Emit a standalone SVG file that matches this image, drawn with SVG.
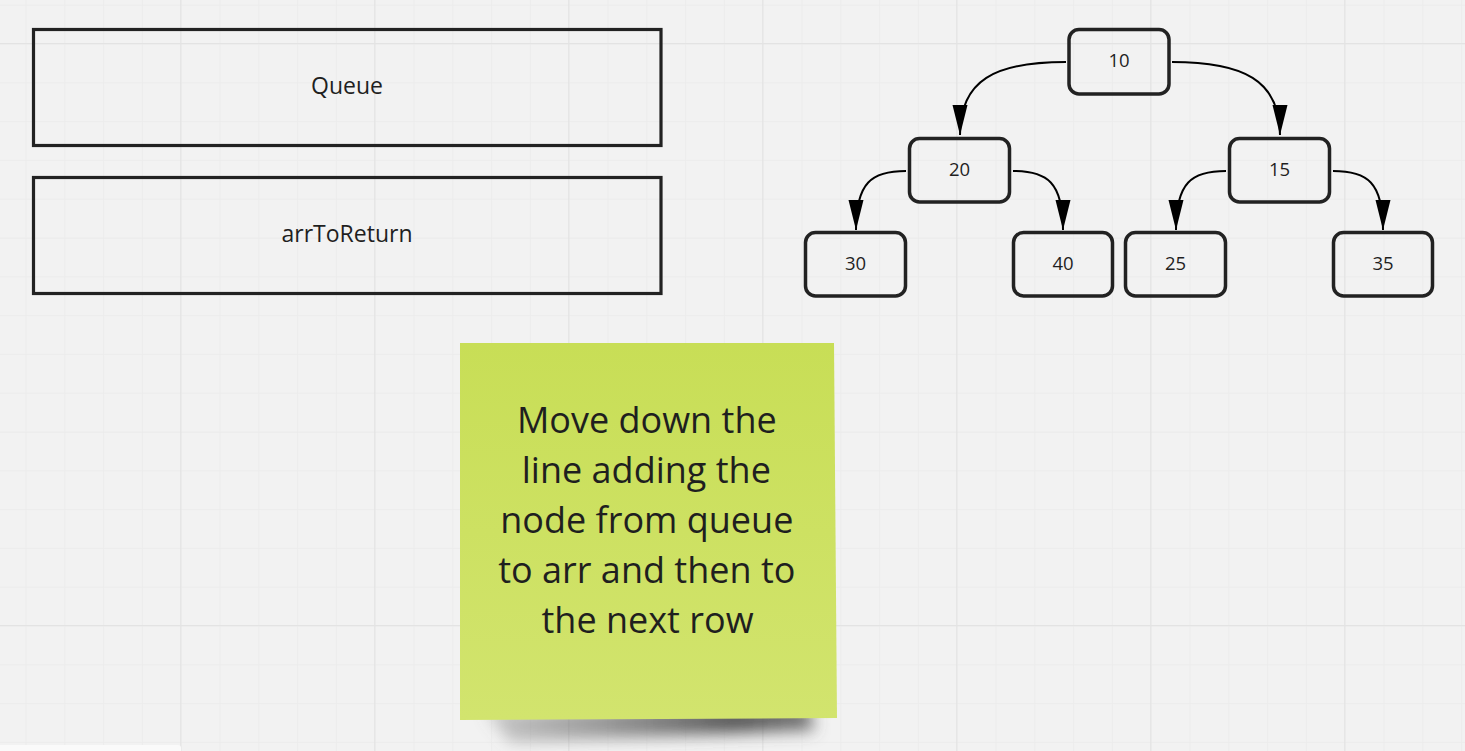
<svg xmlns="http://www.w3.org/2000/svg" width="1465" height="751" viewBox="0 0 1465 751">
<style>
.lbl{font-family:"Open Sans","Noto Sans","Liberation Sans",sans-serif;fill:#1f1f1f;text-anchor:middle}
.box{fill:none;stroke:#222;stroke-width:3.2}
.node{fill:none;stroke:#222;stroke-width:3.5}
.edge{fill:none;stroke:#000;stroke-width:2}
</style>
<defs>
<pattern id="minor" patternUnits="userSpaceOnUse" x="25.5" y="4.7" width="38.8" height="38.8">
<rect x="0" y="0" width="1" height="38.8" fill="#ececec"/>
<rect x="0" y="0" width="38.8" height="1" fill="#ececec"/>
</pattern>
<pattern id="major" patternUnits="userSpaceOnUse" x="180.2" y="43" width="194" height="194">
<rect x="0" y="0" width="1.2" height="194" fill="#e3e3e3"/>
<rect x="0" y="0" width="194" height="1.2" fill="#e3e3e3"/>
</pattern>
<marker id="arr" markerUnits="userSpaceOnUse" markerWidth="31" markerHeight="16" refX="30" refY="8" orient="auto" viewBox="0 0 31 16">
<path d="M0,0.5 L30,8 L0,15.5 z" fill="#000"/>
</marker>
<linearGradient id="sticky" x1="0" y1="0" x2="0" y2="1">
<stop offset="0" stop-color="#c8de56"/>
<stop offset="1" stop-color="#d2e46e"/>
</linearGradient>
<linearGradient id="shade" x1="0" y1="0" x2="1" y2="0">
<stop offset="0" stop-color="#777" stop-opacity="0.35"/>
<stop offset="0.75" stop-color="#444" stop-opacity="0.9"/>
<stop offset="1" stop-color="#555" stop-opacity="0.8"/>
</linearGradient>
<filter id="blur" x="-20%" y="-100%" width="140%" height="300%">
<feGaussianBlur stdDeviation="8"/>
</filter>
</defs>
<rect width="1465" height="751" fill="#f2f2f2"/>
<rect width="1465" height="751" fill="url(#minor)"/>
<rect width="1465" height="751" fill="url(#major)"/>
<rect x="-5" y="745" width="186" height="20" rx="3" fill="#fafafa"/>

<g id="queue">
<rect class="box" x="33.5" y="29.5" width="627.5" height="116"/>
<text class="lbl" x="347" y="94" font-size="23">Queue</text>
</g>
<g id="arrToReturn">
<rect class="box" x="33.5" y="177.5" width="627.5" height="116"/>
<text class="lbl" x="347" y="242" font-size="23">arrToReturn</text>
</g>

<g id="connectors">
<path class="edge" d="M1066,62 C995,62 960,80 960,135" marker-end="url(#arr)"/>
<path class="edge" d="M1172,62 C1243,62 1280,80 1280,135" marker-end="url(#arr)"/>
<path class="edge" d="M906,171 C872,171 856,182 856,230" marker-end="url(#arr)"/>
<path class="edge" d="M1013,171 C1047,171 1063,182 1063,230" marker-end="url(#arr)"/>
<path class="edge" d="M1226,171 C1192,171 1176,182 1176,230" marker-end="url(#arr)"/>
<path class="edge" d="M1333,171 C1367,171 1383,182 1383,230" marker-end="url(#arr)"/>
</g>

<g id="n10"><rect class="node" x="1069" y="29.5" width="100" height="64.5" rx="10"/><text class="lbl" x="1119" y="67" font-size="18.5">10</text></g>
<g id="n20"><rect class="node" x="909.5" y="138.5" width="100" height="63.5" rx="10"/><text class="lbl" x="959.5" y="176" font-size="18.5">20</text></g>
<g id="n15"><rect class="node" x="1229.5" y="138.5" width="100" height="63.5" rx="10"/><text class="lbl" x="1279.5" y="176" font-size="18.5">15</text></g>
<g id="n30"><rect class="node" x="805.5" y="232.5" width="100" height="63.5" rx="10"/><text class="lbl" x="855.5" y="270" font-size="18.5">30</text></g>
<g id="n40"><rect class="node" x="1013.5" y="232.5" width="99" height="63.5" rx="10"/><text class="lbl" x="1063" y="270" font-size="18.5">40</text></g>
<g id="n25"><rect class="node" x="1125.5" y="232.5" width="100" height="63.5" rx="10"/><text class="lbl" x="1175.5" y="270" font-size="18.5">25</text></g>
<g id="n35"><rect class="node" x="1333.5" y="232.5" width="99" height="63.5" rx="10"/><text class="lbl" x="1383" y="270" font-size="18.5">35</text></g>

<g id="sticky-note">
<path d="M485,710 L808,706 L815,730 L510,742 Z" fill="url(#shade)" filter="url(#blur)"/>
<path d="M460,343 L834,343 L837,718 L460,720 Z" fill="url(#sticky)"/>
<text class="lbl" font-size="36" x="647.5">
<tspan x="651.5" y="433">Move down the</tspan>
<tspan x="651" y="483">line adding the</tspan>
<tspan x="651.5" y="533">node from queue</tspan>
<tspan x="651.5" y="583">to arr and then to</tspan>
<tspan x="647.5" y="633">the next row</tspan>
</text>
</g>
</svg>
